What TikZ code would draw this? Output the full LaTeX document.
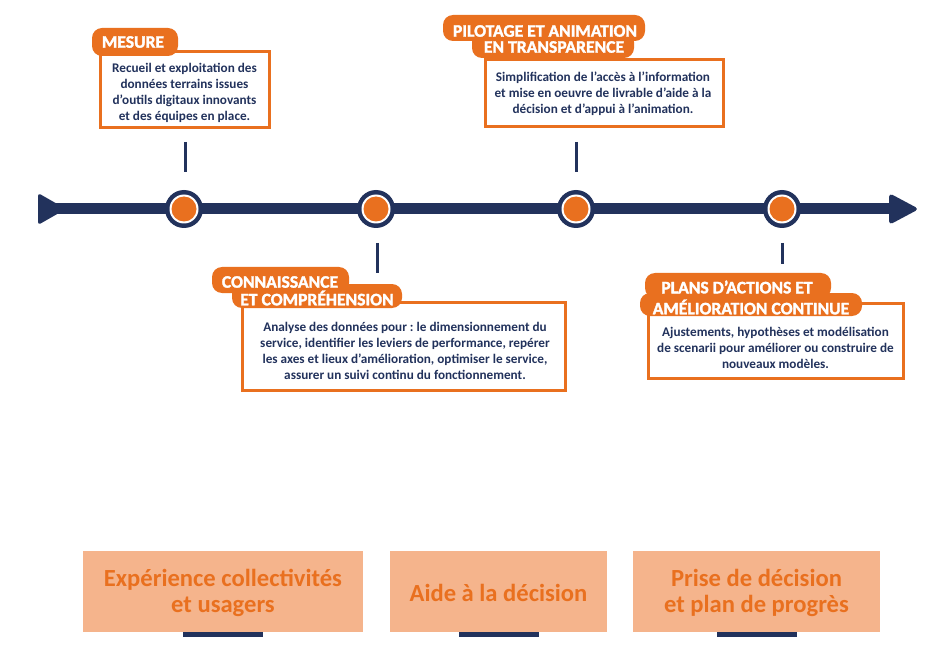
\documentclass[tikz,border=0pt]{standalone}
\usepackage{fontspec}
\setmainfont{Carlito}
\newfontfamily\heavy[FakeBold=1.8]{Carlito}
\definecolor{navy}{HTML}{22325C}
\definecolor{orng}{HTML}{E9701F}
\definecolor{peach}{HTML}{F5B48C}
\begin{document}
\begin{tikzpicture}[x=1pt,y=-1pt,
  boxframe/.style={draw=orng, line width=3pt, fill=white, inner sep=0pt},
  boxtext/.style={inner sep=0pt, align=center, text=navy,
     font=\fontsize{13.2}{15.8}\selectfont\bfseries\frenchspacing},
  tagfill/.style={fill=orng, rounded corners=10pt},
  tagtext/.style={font=\fontsize{17.6}{18}\selectfont\heavy\bfseries, text=white, inner sep=0pt},
  bottombox/.style={fill=peach, inner sep=0pt, align=center, text=orng,
     font=\fontsize{24.6}{26}\selectfont\bfseries},
  bottomtext/.style={inner sep=0pt, align=center, text=orng,
     font=\fontsize{24.6}{26}\selectfont\bfseries},
  tick/.style={draw=navy, line width=3pt},
  bar/.style={fill=navy}
]
\useasboundingbox (0,0) rectangle (940,647);
\fill[white] (0,0) rectangle (940,647);

% axis
\coordinate (a0) at (50,209);
\coordinate (a1) at (900,209);
\draw[navy, line width=11pt] (a0) -- (a1);
\fill[navy, rounded corners=3pt] (38,193) -- (66,209) -- (38,225) -- cycle;
\fill[navy, rounded corners=4pt] (889,193) -- (919,209) -- (889,225) -- cycle;

% milestones
\foreach \n/\x in {c1/184,c2/376,c3/576,c4/782}{
  \node[circle, fill=navy, minimum size=38pt, inner sep=0pt] (\n) at (\x,209) {};
  \fill[white] (\n) circle (14.5pt);
  \fill[orng] (\n) circle (12.5pt);
}

% ticks
\coordinate (k1a) at (185,142); \coordinate (k1b) at (185,172);
\coordinate (k2a) at (377,243); \coordinate (k2b) at (377,273);
\coordinate (k3a) at (576,142); \coordinate (k3b) at (576,172);
\coordinate (k4a) at (782,243); \coordinate (k4b) at (782,264);
\draw[tick] (k1a) -- (k1b);
\draw[tick] (k2a) -- (k2b);
\draw[tick] (k3a) -- (k3b);
\draw[tick] (k4a) -- (k4b);

% box 1 MESURE
\node[boxframe, minimum width=169pt, minimum height=76pt] (b1) at (184.5,90) {};
\node[boxtext] (b1t) at (184.5,93) {Recueil et exploitation des\\données terrains issues\\d’outils digitaux innovants\\et des équipes en place.};
\fill[tagfill] (92,28) rectangle (178,56);
\node[tagtext] (t1) at (133,42) {MESURE};

% box 2 PILOTAGE
\node[boxframe, minimum width=238pt, minimum height=67pt] (b2) at (604,93.5) {};
\node[boxtext] (b2t) at (603,93.5) {Simplification de l’accès à l’information\\et mise en oeuvre de livrable d’aide à la\\décision et d’appui à l’animation.};
\fill[tagfill] (443,15) rectangle (645,41);
\fill[tagfill] (472,32) rectangle (634,58);
\node[tagtext] (t2a) at (545,31) {PILOTAGE ET ANIMATION};
\node[tagtext] (t2b) at (554,47) {EN TRANSPARENCE};

% box 3 CONNAISSANCE
\node[boxframe, minimum width=323pt, minimum height=88pt] (b3) at (403.5,346) {};
\node[boxtext] (b3t) at (405,351) {Analyse des données pour : le dimensionnement du\\service, identifier les leviers de performance, repérer\\les axes et lieux d’amélioration, optimiser le service,\\assurer un suivi continu du fonctionnement.};
\fill[tagfill] (212,267) rectangle (349,293);
\fill[tagfill] (232,284) rectangle (402,308);
\node[tagtext] (t3a) at (280,282) {CONNAISSANCE};
\node[tagtext] (t3b) at (317,298) {ET COMPRÉHENSION};

% box 4 PLANS
\node[boxframe, minimum width=255pt, minimum height=75pt] (b4) at (775.5,340.5) {};
\node[boxtext] (b4t) at (775.5,348) {Ajustements, hypothèses et modélisation\\de scenarii pour améliorer ou construire de\\nouveaux modèles.};
\fill[tagfill] (645,273) rectangle (831,298);
\fill[tagfill] (640,293) rectangle (862,316);
\node[tagtext] (t4a) at (737,287) {PLANS D’ACTIONS ET};
\node[tagtext] (t4b) at (751,307) {AMÉLIORATION CONTINUE};

% bottom boxes
\node[bottombox, minimum width=280pt, minimum height=81pt] (p1) at (223,591.5) {};
\node[bottomtext] (p1t) at (223,593) {Expérience collectivités\\et usagers};
\node[bottombox, minimum width=217pt, minimum height=81pt] (p2) at (498.5,591.5) {};
\node[bottomtext] (p2t) at (498.5,593) {Aide à la décision};
\node[bottombox, minimum width=247pt, minimum height=81pt] (p3) at (756.5,591.5) {};
\node[bottomtext] (p3t) at (756.5,593) {Prise de décision\\et plan de progrès};
\fill[bar] ([xshift=-40pt,yshift=-5pt]p1.south) rectangle ([xshift=40pt]p1.south);
\fill[bar] ([xshift=-40pt,yshift=-5pt]p2.south) rectangle ([xshift=40pt]p2.south);
\fill[bar] ([xshift=-40pt,yshift=-5pt]p3.south) rectangle ([xshift=40pt]p3.south);
\end{tikzpicture}
\end{document}
